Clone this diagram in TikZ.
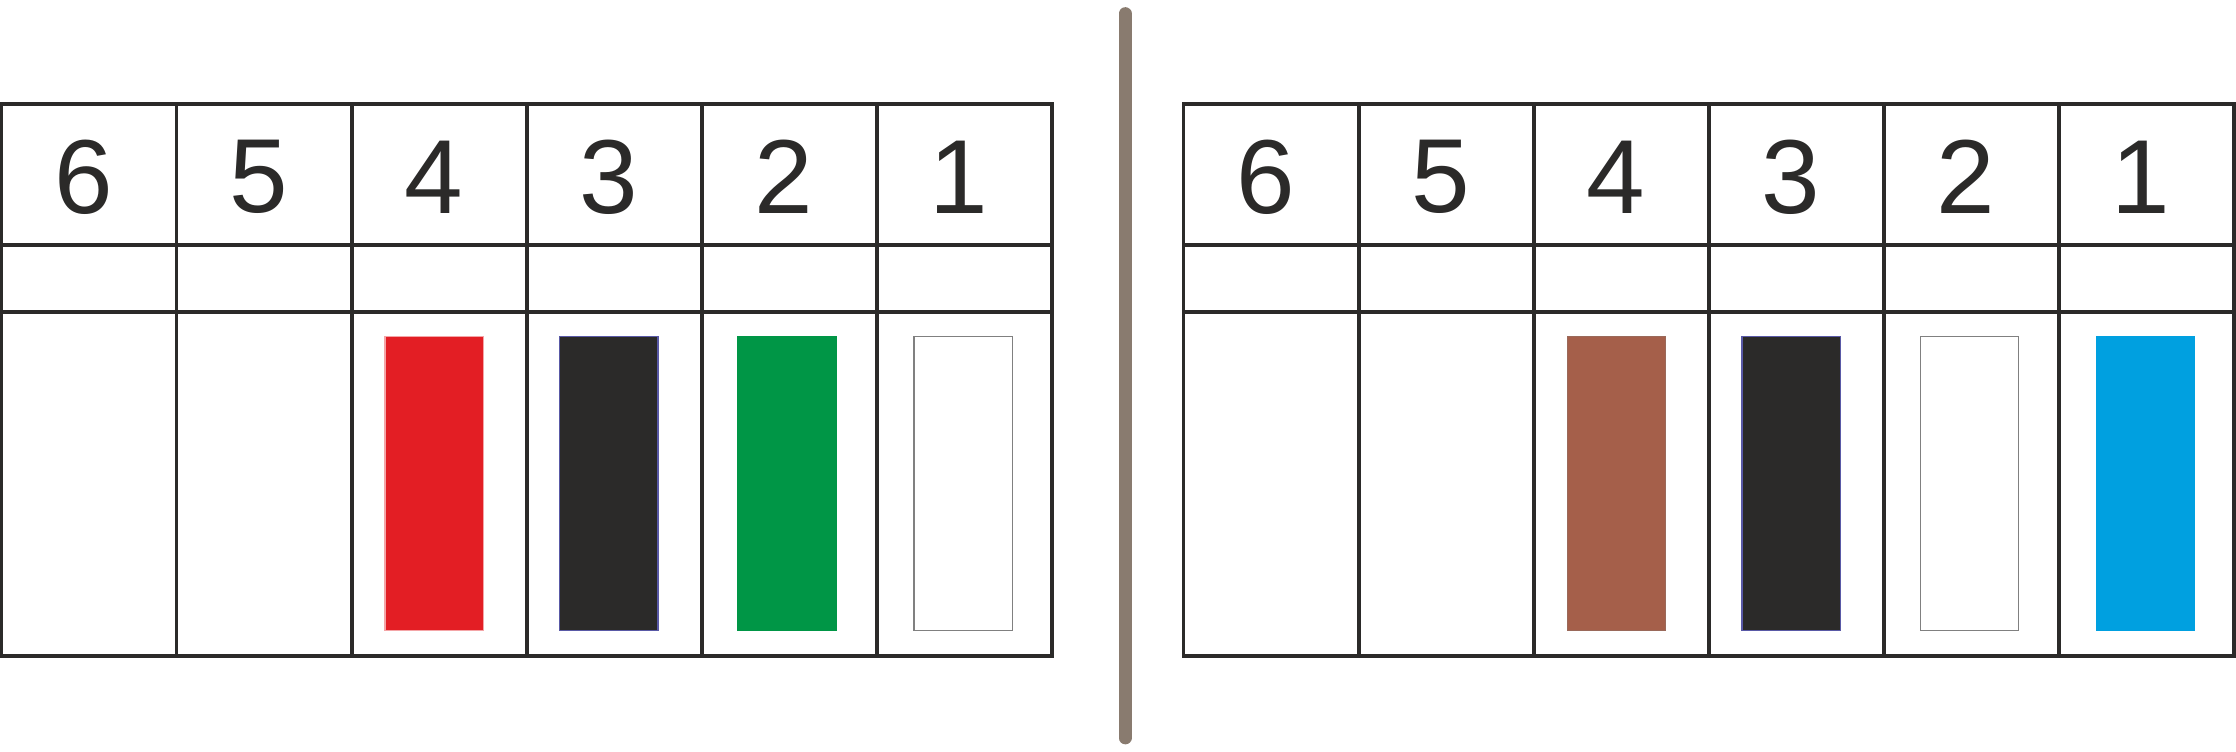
\documentclass[tikz,border=0pt]{standalone}
\usepackage{fontspec}
\setmainfont{Liberation Sans}
\definecolor{inkcolor}{RGB}{43,42,41}
\definecolor{polecolor}{RGB}{137,123,111}
\definecolor{wirered}{RGB}{227,30,36}
\definecolor{wireblack}{RGB}{43,42,41}
\definecolor{wiregreen}{RGB}{0,150,70}
\definecolor{wirebrown}{RGB}{165,95,74}
\definecolor{wireblue}{RGB}{0,160,224}
\def\cw{122.8}
\def\bw{69}

\begin{document}
\begin{tikzpicture}[
    x=0.2mm, y=-0.2mm,
    every node/.style={font=\fontsize{42}{42}\selectfont, text=inkcolor},
    g/.style={draw=inkcolor, line width=1.5pt},
    pole/.style={draw=polecolor, line width=5.1pt, line cap=round},
    w/.style={line width=0.5pt}
]
\useasboundingbox (0,0) rectangle (1568,527);

% one terminal strip: left edge, then the colours of 4 3 2 1
\def\strip (#1) #2 #3 #4 #5{
    \draw [g] (#1,73) rectangle ++(6*\cw,387);
    \draw [g] (#1,172) -- ++(6*\cw,0);
    \draw [g] (#1,219) -- ++(6*\cw,0);
    \foreach \i in {1,...,5}
        \draw [g] (#1+\i*\cw,73) -- ++(0,387);
    \foreach \i/\n in {0/6,1/5,2/4,3/3,4/2,5/1}
        \node (n#1-\n) at (#1+\i*\cw+\cw/2-4,124) {\n};
    \filldraw [w,#2] (#1+269,236) rectangle ++(\bw,206);
    \filldraw [w,#3] (#1+391.5,236) rectangle ++(\bw,206);
    \filldraw [w,#4] (#1+516.5,236) rectangle ++(\bw,206);
    \filldraw [w,#5] (#1+640,236) rectangle ++(\bw,206);
}

\strip (1) {fill=wirered,draw=wirered!40!white}
    {fill=wireblack,draw=blue!30!gray}
    {fill=wiregreen,draw=wiregreen}
    {fill=white,draw=gray};

\strip (830) {fill=wirebrown,draw=wirebrown!70!gray}
    {fill=wireblack,draw=blue!30!gray}
    {fill=white,draw=gray}
    {fill=wireblue,draw=wireblue};

\coordinate (top) at (789,9.5);
\coordinate (bottom) at (789,517.5);
\draw [pole] (top) -- (bottom);

\end{tikzpicture}
\end{document}
